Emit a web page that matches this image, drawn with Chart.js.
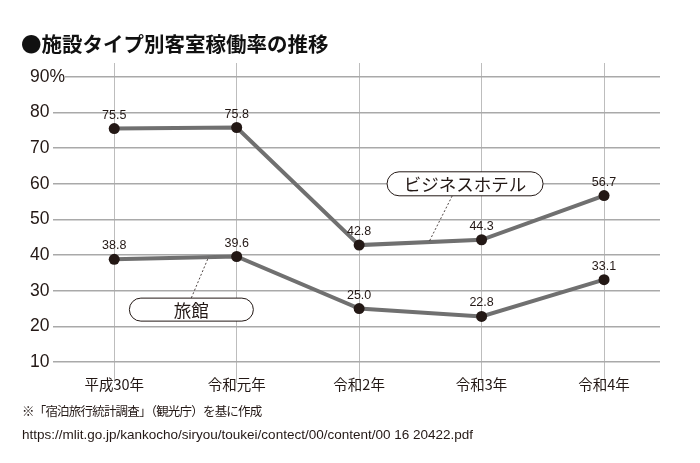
<!DOCTYPE html>
<html><head><meta charset="utf-8">
<script src="https://cdn.jsdelivr.net/npm/chart.js@4.4.1/dist/chart.umd.min.js"></script>
<style>html,body{margin:0;padding:0;background:#fff}#wrap{width:700px;height:463px;position:relative}</style>
</head><body><div id="wrap"><canvas id="c" width="700" height="463"></canvas></div>
<script>
const categories = ['平成30年','令和元年','令和2年','令和3年','令和4年'];
const businessHotel = [75.5, 75.8, 42.8, 44.3, 56.7];
const ryokan = [38.8, 39.6, 25.0, 22.8, 33.1];
const yTicks = [10,20,30,40,50,60,70,80,90];
const seriesNames = ['ビジネスホテル','旅館'];
const titleText = '●施設タイプ別客室稼働率の推移';
const note1 = '※「宿泊旅行統計調査」（観光庁）を基に作成';
const note2 = 'https://mlit.go.jp/kankocho/siryou/toukei/contect/00/content/00 16 20422.pdf';

const JP = '"Noto Sans CJK JP", "Noto Sans", sans-serif';
const LAT = '"Liberation Sans", Arial, sans-serif';

function toXY(arr){ return arr.map((v,i)=>({x:i,y:v})); }

const extras = {
  id:'extras',
  afterDatasetsDraw(chart){
    const ctx = chart.ctx;
    const xs = chart.scales.x, ys = chart.scales.y;
    ctx.save();
    ctx.fillStyle = '#231815';
    ctx.font = '12.5px ' + LAT;
    ctx.textAlign = 'center';
    ctx.textBaseline = 'alphabetic';
    chart.data.datasets.forEach((ds, di) => {
      const meta = chart.getDatasetMeta(di);
      meta.data.forEach((pt, i) => {
        ctx.fillText(ds.data[i].y.toFixed(1), pt.x, pt.y - 10);
      });
    });
    function callout(label, cx, cy, w, h, lx1, ly1, lx2, ly2){
      const px = xs.getPixelForValue(cx), py = ys.getPixelForValue(cy);
      ctx.save();
      ctx.setLineDash([2,2]);
      ctx.strokeStyle = '#231815';
      ctx.lineWidth = 0.8;
      ctx.beginPath();
      ctx.moveTo(xs.getPixelForValue(lx1), ys.getPixelForValue(ly1));
      ctx.lineTo(xs.getPixelForValue(lx2), ys.getPixelForValue(ly2));
      ctx.stroke();
      ctx.restore();
      const x0 = px - w/2, y0 = py - h/2, r = h/2;
      ctx.beginPath();
      ctx.roundRect(x0, y0, w, h, r);
      ctx.fillStyle = '#fff';
      ctx.fill();
      ctx.strokeStyle = '#231815';
      ctx.lineWidth = 1;
      ctx.stroke();
      ctx.fillStyle = '#231815';
      ctx.font = '17.5px ' + JP;
      ctx.textAlign = 'center';
      ctx.textBaseline = 'middle';
      ctx.fillText(label, px, py + 1);
    }
    callout(seriesNames[0], 2.865, 60.0, 156, 24, 2.76, 56.6, 2.57, 42.8 + 0.57*(44.3-42.8));
    callout(seriesNames[1], 0.63, 24.7, 124, 23, 0.63, 28.0, 0.77, 38.8 + 0.77*(39.6-38.8));
    ctx.restore();
  },
  afterDraw(chart){
    const ctx = chart.ctx;
    ctx.save();
    ctx.fillStyle = '#111';
    ctx.textAlign = 'left';
    ctx.textBaseline = 'middle';
    ctx.font = 'bold 20.5px ' + JP;
    ctx.fillText(titleText, 21, 44);
    ctx.fillStyle = '#231815';
    ctx.font = '12.5px ' + JP;
    ctx.letterSpacing = '-0.8px';
    ctx.fillText(note1, 22, 411);
    ctx.letterSpacing = '0px';
    ctx.font = '13.5px ' + LAT;
    ctx.fillText(note2, 22, 435);
    ctx.restore();
  }
};

new Chart(document.getElementById('c'), {
  type:'line',
  data:{
    datasets:[
      {label:seriesNames[0], data:toXY(businessHotel)},
      {label:seriesNames[1], data:toXY(ryokan)}
    ]
  },
  options:{
    responsive:false,
    animation:false,
    devicePixelRatio:1,
    layout:{padding:{left:30, top:63, right:40, bottom:0}},
    elements:{
      line:{borderColor:'#707070', borderWidth:4, tension:0},
      point:{radius:5.5, backgroundColor:'#231815', borderWidth:0, hoverRadius:5.5}
    },
    plugins:{legend:{display:false}, tooltip:{enabled:false}},
    scales:{
      x:{
        type:'linear', min:-0.5, max:4.457,
        afterBuildTicks(s){ s.ticks = categories.map((c,i)=>({value:i})); },
        afterFit(s){ s.height = 101; },
        border:{display:false},
        grid:{color:'#bdbdbd', lineWidth:1, drawTicks:true, tickLength:21, tickColor:'#bdbdbd'},
        ticks:{
          callback:(v)=>categories[v],
          font:{family:JP, size:14.5},
          color:'#231815',
          padding:-7,
          maxRotation:0, autoSkip:false
        }
      },
      y:{
        type:'linear', min:10, max:93.9,
        afterBuildTicks(s){ s.ticks = yTicks.map(v=>({value:v})); },
        afterFit(s){ s.width = 23; },
        border:{display:false},
        grid:{color:'#a9a9a9', lineWidth:1.5, drawTicks:false},
        ticks:{
          callback:(v)=> v===90 ? v+'%' : String(v),
          font:{family:LAT, size:17.5},
          color:'#231815',
          mirror:true,
          padding:-23,
          showLabelBackdrop:(c)=> c.tick && c.tick.value===90,
          backdropColor:'#fff',
          backdropPadding:{top:0,bottom:0,left:0,right:0}
        }
      }
    }
  },
  plugins:[extras]
});
</script></body></html>
